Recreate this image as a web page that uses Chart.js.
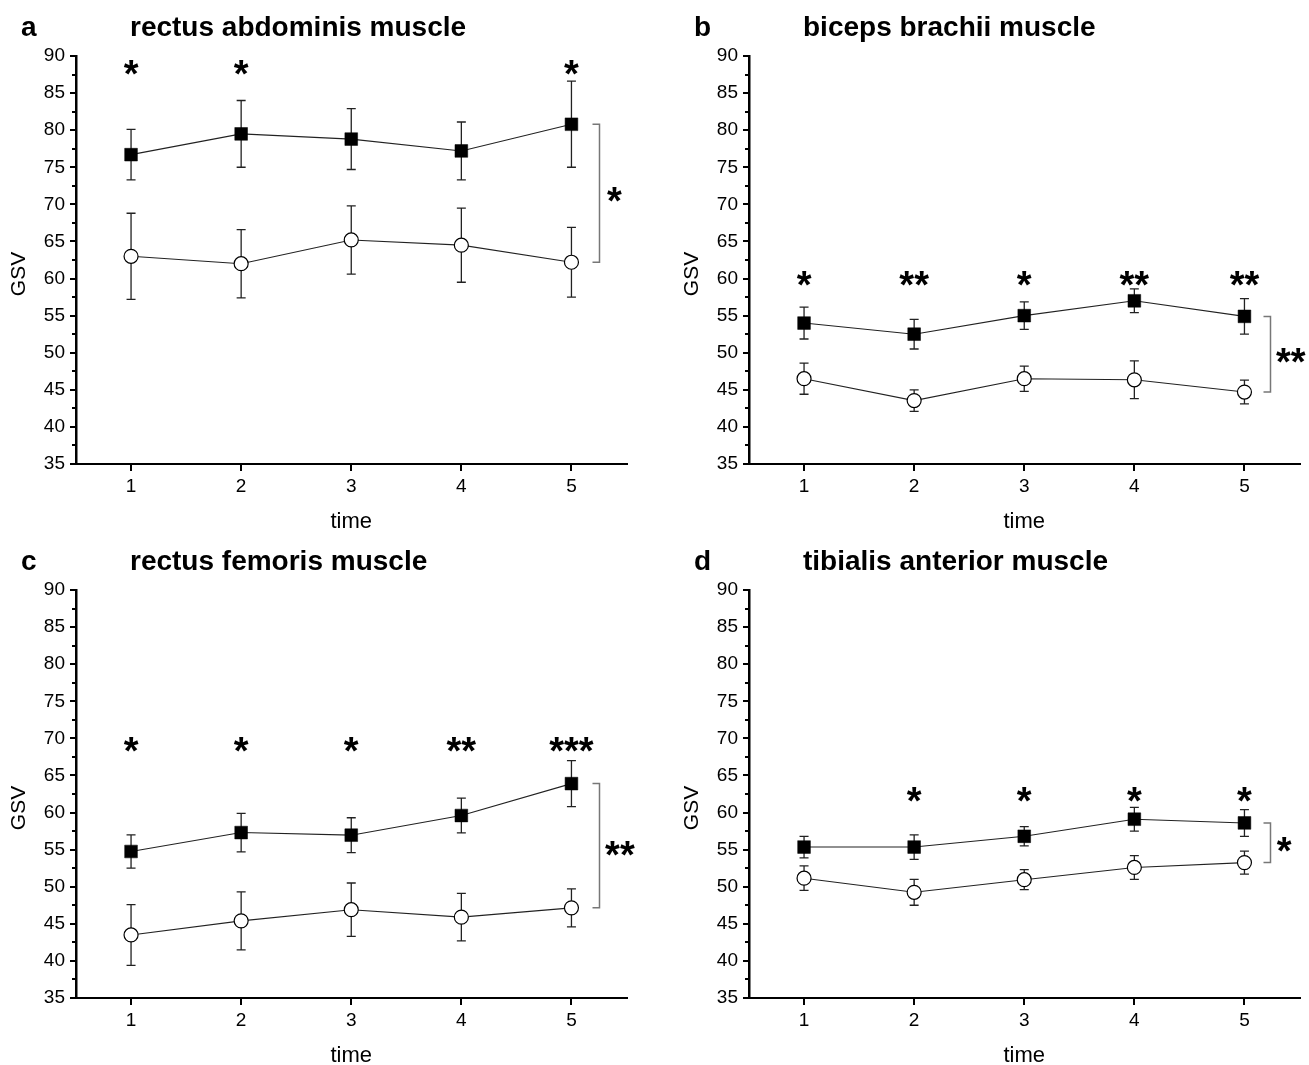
<!DOCTYPE html>
<html>
<head>
<meta charset="utf-8">
<script src="https://cdn.jsdelivr.net/npm/chart.js@4.4.1/dist/chart.umd.min.js"></script>
<style>
  html, body { margin: 0; padding: 0; background: #fff; }
  body { width: 1309px; height: 1065px; position: relative; overflow: hidden; }
  .panel { position: absolute; width: 636px; height: 534px; }
  .panel canvas { display: block; }
</style>
</head>
<body>
<div class="panel" style="left:0px;top:0px;"><canvas id="cA" width="636" height="534"></canvas></div>
<div class="panel" style="left:673px;top:0px;"><canvas id="cB" width="636" height="534"></canvas></div>
<div class="panel" style="left:0px;top:534px;"><canvas id="cC" width="636" height="534"></canvas></div>
<div class="panel" style="left:673px;top:534px;"><canvas id="cD" width="636" height="534"></canvas></div>
<script>
// ---------- DATA ----------
const categories = [1, 2, 3, 4, 5];
const yTickValues = [35, 40, 45, 50, 55, 60, 65, 70, 75, 80, 85, 90];
const yMinorValues = [37.5, 42.5, 47.5, 52.5, 57.5, 62.5, 67.5, 72.5, 77.5, 82.5, 87.5];
const xAxisTitle = 'time';
const yAxisTitle = 'GSV';

// a: rectus abdominis
const aTitle = 'rectus abdominis muscle';
const aFilled = [76.7, 79.5, 78.8, 77.2, 80.8];
const aFilledErr = [3.4, 4.5, 4.1, 3.9, 5.8];
const aOpen = [63.0, 62.0, 65.2, 64.5, 62.2];
const aOpenErr = [5.8, 4.6, 4.6, 5.0, 4.7];
const aStars = ['*', '*', '', '', '*'];
const aBracketLabel = '*';

// b: biceps brachii
const bTitle = 'biceps brachii muscle';
const bFilled = [54.0, 52.5, 55.0, 57.0, 54.9];
const bFilledErr = [2.15, 2.0, 1.85, 1.6, 2.4];
const bOpen = [46.5, 43.55, 46.5, 46.35, 44.7];
const bOpenErr = [2.1, 1.45, 1.7, 2.55, 1.6];
const bStars = ['*', '**', '*', '**', '**'];
const bBracketLabel = '**';

// c: rectus femoris
const cTitle = 'rectus femoris muscle';
const cFilled = [54.75, 57.3, 56.95, 59.6, 63.9];
const cFilledErr = [2.25, 2.6, 2.35, 2.35, 3.1];
const cOpen = [43.5, 45.4, 46.9, 45.9, 47.15];
const cOpenErr = [4.1, 3.9, 3.6, 3.2, 2.55];
const cStars = ['*', '*', '*', '**', '***'];
const cBracketLabel = '**';

// d: tibialis anterior
const dTitle = 'tibialis anterior muscle';
const dFilled = [55.35, 55.35, 56.8, 59.1, 58.6];
const dFilledErr = [1.45, 1.65, 1.3, 1.6, 1.8];
const dOpen = [51.15, 49.25, 50.95, 52.6, 53.25];
const dOpenErr = [1.65, 1.75, 1.35, 1.6, 1.55];
const dStars = ['', '*', '*', '*', '*'];
const dBracketLabel = '*';

// ---------- LAYOUT / STYLE ----------
const FONT = "'Liberation Sans', Arial, Helvetica, sans-serif";

const decorPlugin = {
  id: 'decor',
  beforeDatasetsDraw(chart, args, opts) {
    const ctx = chart.ctx, xs = chart.scales.x, ys = chart.scales.y;
    ctx.save();
    ctx.strokeStyle = '#222';
    ctx.lineWidth = 1.3;
    chart.data.datasets.forEach(ds => {
      ds.data.forEach((p, i) => {
        const e = ds.err[i];
        const x = xs.getPixelForValue(p.x);
        const yt = ys.getPixelForValue(p.y + e);
        const yb = ys.getPixelForValue(p.y - e);
        ctx.beginPath();
        ctx.moveTo(x, yt); ctx.lineTo(x, yb);
        ctx.moveTo(x - 4.5, yt); ctx.lineTo(x + 4.5, yt);
        ctx.moveTo(x - 4.5, yb); ctx.lineTo(x + 4.5, yb);
        ctx.stroke();
      });
    });
    ctx.restore();
  },
  afterDraw(chart, args, opts) {
    const ctx = chart.ctx, xs = chart.scales.x, ys = chart.scales.y;
    const ca = chart.chartArea;
    ctx.save();
    // minor ticks on y axis
    ctx.strokeStyle = '#000';
    ctx.lineWidth = 2;
    yMinorValues.forEach(v => {
      const y = Math.round(ys.getPixelForValue(v));
      ctx.beginPath();
      ctx.moveTo(ca.left - 4, y); ctx.lineTo(ca.left, y);
      ctx.stroke();
    });
    // panel letter & title
    ctx.fillStyle = '#000';
    ctx.textAlign = 'left';
    ctx.textBaseline = 'alphabetic';
    ctx.font = 'bold 28px ' + FONT;
    ctx.fillText(opts.letter, 21, 36);
    ctx.font = 'bold 28px ' + FONT;
    ctx.fillText(opts.title, 130, 36);
    // axis titles
    ctx.font = '22px ' + FONT;
    ctx.textAlign = 'center';
    ctx.textBaseline = 'middle';
    ctx.fillText(xAxisTitle, (ca.left + ca.right) / 2, 522);
    ctx.save();
    ctx.translate(19, 274);
    ctx.rotate(-Math.PI / 2);
    ctx.font = '21px ' + FONT;
    ctx.fillText(yAxisTitle, 0, 0);
    ctx.restore();
    // significance stars above points
    ctx.font = 'bold 38px ' + FONT;
    ctx.textBaseline = 'alphabetic';
    opts.stars.forEach((s, i) => {
      if (!s) return;
      const x = xs.getPixelForValue(categories[i]);
      const y = ys.getPixelForValue(opts.starY);
      ctx.fillText(s, x, y + 19.5);
    });
    // bracket between the two series at last time point
    const last = categories.length - 1;
    const filled = chart.data.datasets[0].data[last].y;
    const open = chart.data.datasets[1].data[last].y;
    const bx = Math.round(xs.getPixelForValue(opts.bracketX)) + 0.5;
    const y1 = ys.getPixelForValue(filled);
    const y2 = ys.getPixelForValue(open);
    ctx.strokeStyle = '#777';
    ctx.lineWidth = 1.5;
    ctx.beginPath();
    ctx.moveTo(bx - 7, y1); ctx.lineTo(bx, y1); ctx.lineTo(bx, y2); ctx.lineTo(bx - 7, y2);
    ctx.stroke();
    ctx.fillStyle = '#000';
    ctx.fillText(opts.bracketLabel, xs.getPixelForValue(opts.labelX), ys.getPixelForValue(opts.labelY) + 19.5);
    ctx.restore();
  }
};

function makePanel(id, letter, title, filled, filledErr, open, openErr, stars, starY, bracketX, bracketLabel, labelX, labelY) {
  const tickFont = { family: FONT, size: 19 };
  new Chart(document.getElementById(id), {
    type: 'line',
    data: {
      datasets: [
        {
          data: categories.map((c, i) => ({ x: c, y: filled[i] })),
          err: filledErr,
          borderColor: '#222', borderWidth: 1.1,
          pointStyle: 'rect', pointRadius: 9, pointBackgroundColor: '#000',
          pointBorderColor: '#000', pointBorderWidth: 0.5, tension: 0
        },
        {
          data: categories.map((c, i) => ({ x: c, y: open[i] })),
          err: openErr,
          borderColor: '#222', borderWidth: 1.1,
          pointStyle: 'circle', pointRadius: 7, pointBackgroundColor: '#fff',
          pointBorderColor: '#000', pointBorderWidth: 1.2, tension: 0
        }
      ]
    },
    options: {
      responsive: false,
      animation: false,
      devicePixelRatio: 1,
      layout: { padding: { left: 0, top: 56, right: 7, bottom: 0 } },
      plugins: {
        legend: { display: false },
        tooltip: { enabled: false },
        decor: { letter, title, stars, starY, bracketX, bracketLabel, labelX, labelY }
      },
      scales: {
        x: {
          type: 'linear', min: 0.5, max: 5.5,
          afterBuildTicks: s => { s.ticks = categories.map(v => ({ value: v })); },
          afterFit: s => { s.height = 70; },
          ticks: { font: tickFont, color: '#000', padding: 4, maxRotation: 0 },
          grid: { drawOnChartArea: false, drawTicks: true, tickLength: 7, color: '#000', lineWidth: 2 },
          border: { display: true, color: '#000', width: 2 }
        },
        y: {
          type: 'linear', min: 35, max: 90,
          afterBuildTicks: s => { s.ticks = yTickValues.map(v => ({ value: v })); },
          afterFit: s => { s.width = 76; },
          ticks: { font: tickFont, color: '#000', padding: 5 },
          grid: { drawOnChartArea: false, drawTicks: true, tickLength: 6, color: '#000', lineWidth: 2 },
          border: { display: true, color: '#000', width: 2.5 }
        }
      }
    },
    plugins: [decorPlugin]
  });
}

makePanel('cA', 'a', aTitle, aFilled, aFilledErr, aOpen, aOpenErr, aStars, 88.4, 5.25, aBracketLabel, 5.39, 71.3);
makePanel('cB', 'b', bTitle, bFilled, bFilledErr, bOpen, bOpenErr, bStars, 60.0, 5.23, bBracketLabel, 5.42, 49.6);
makePanel('cC', 'c', cTitle, cFilled, cFilledErr, cOpen, cOpenErr, cStars, 69.2, 5.25, cBracketLabel, 5.44, 55.2);
makePanel('cD', 'd', dTitle, dFilled, dFilledErr, dOpen, dOpenErr, dStars, 62.4, 5.23, dBracketLabel, 5.36, 55.7);
</script>
</body>
</html>
